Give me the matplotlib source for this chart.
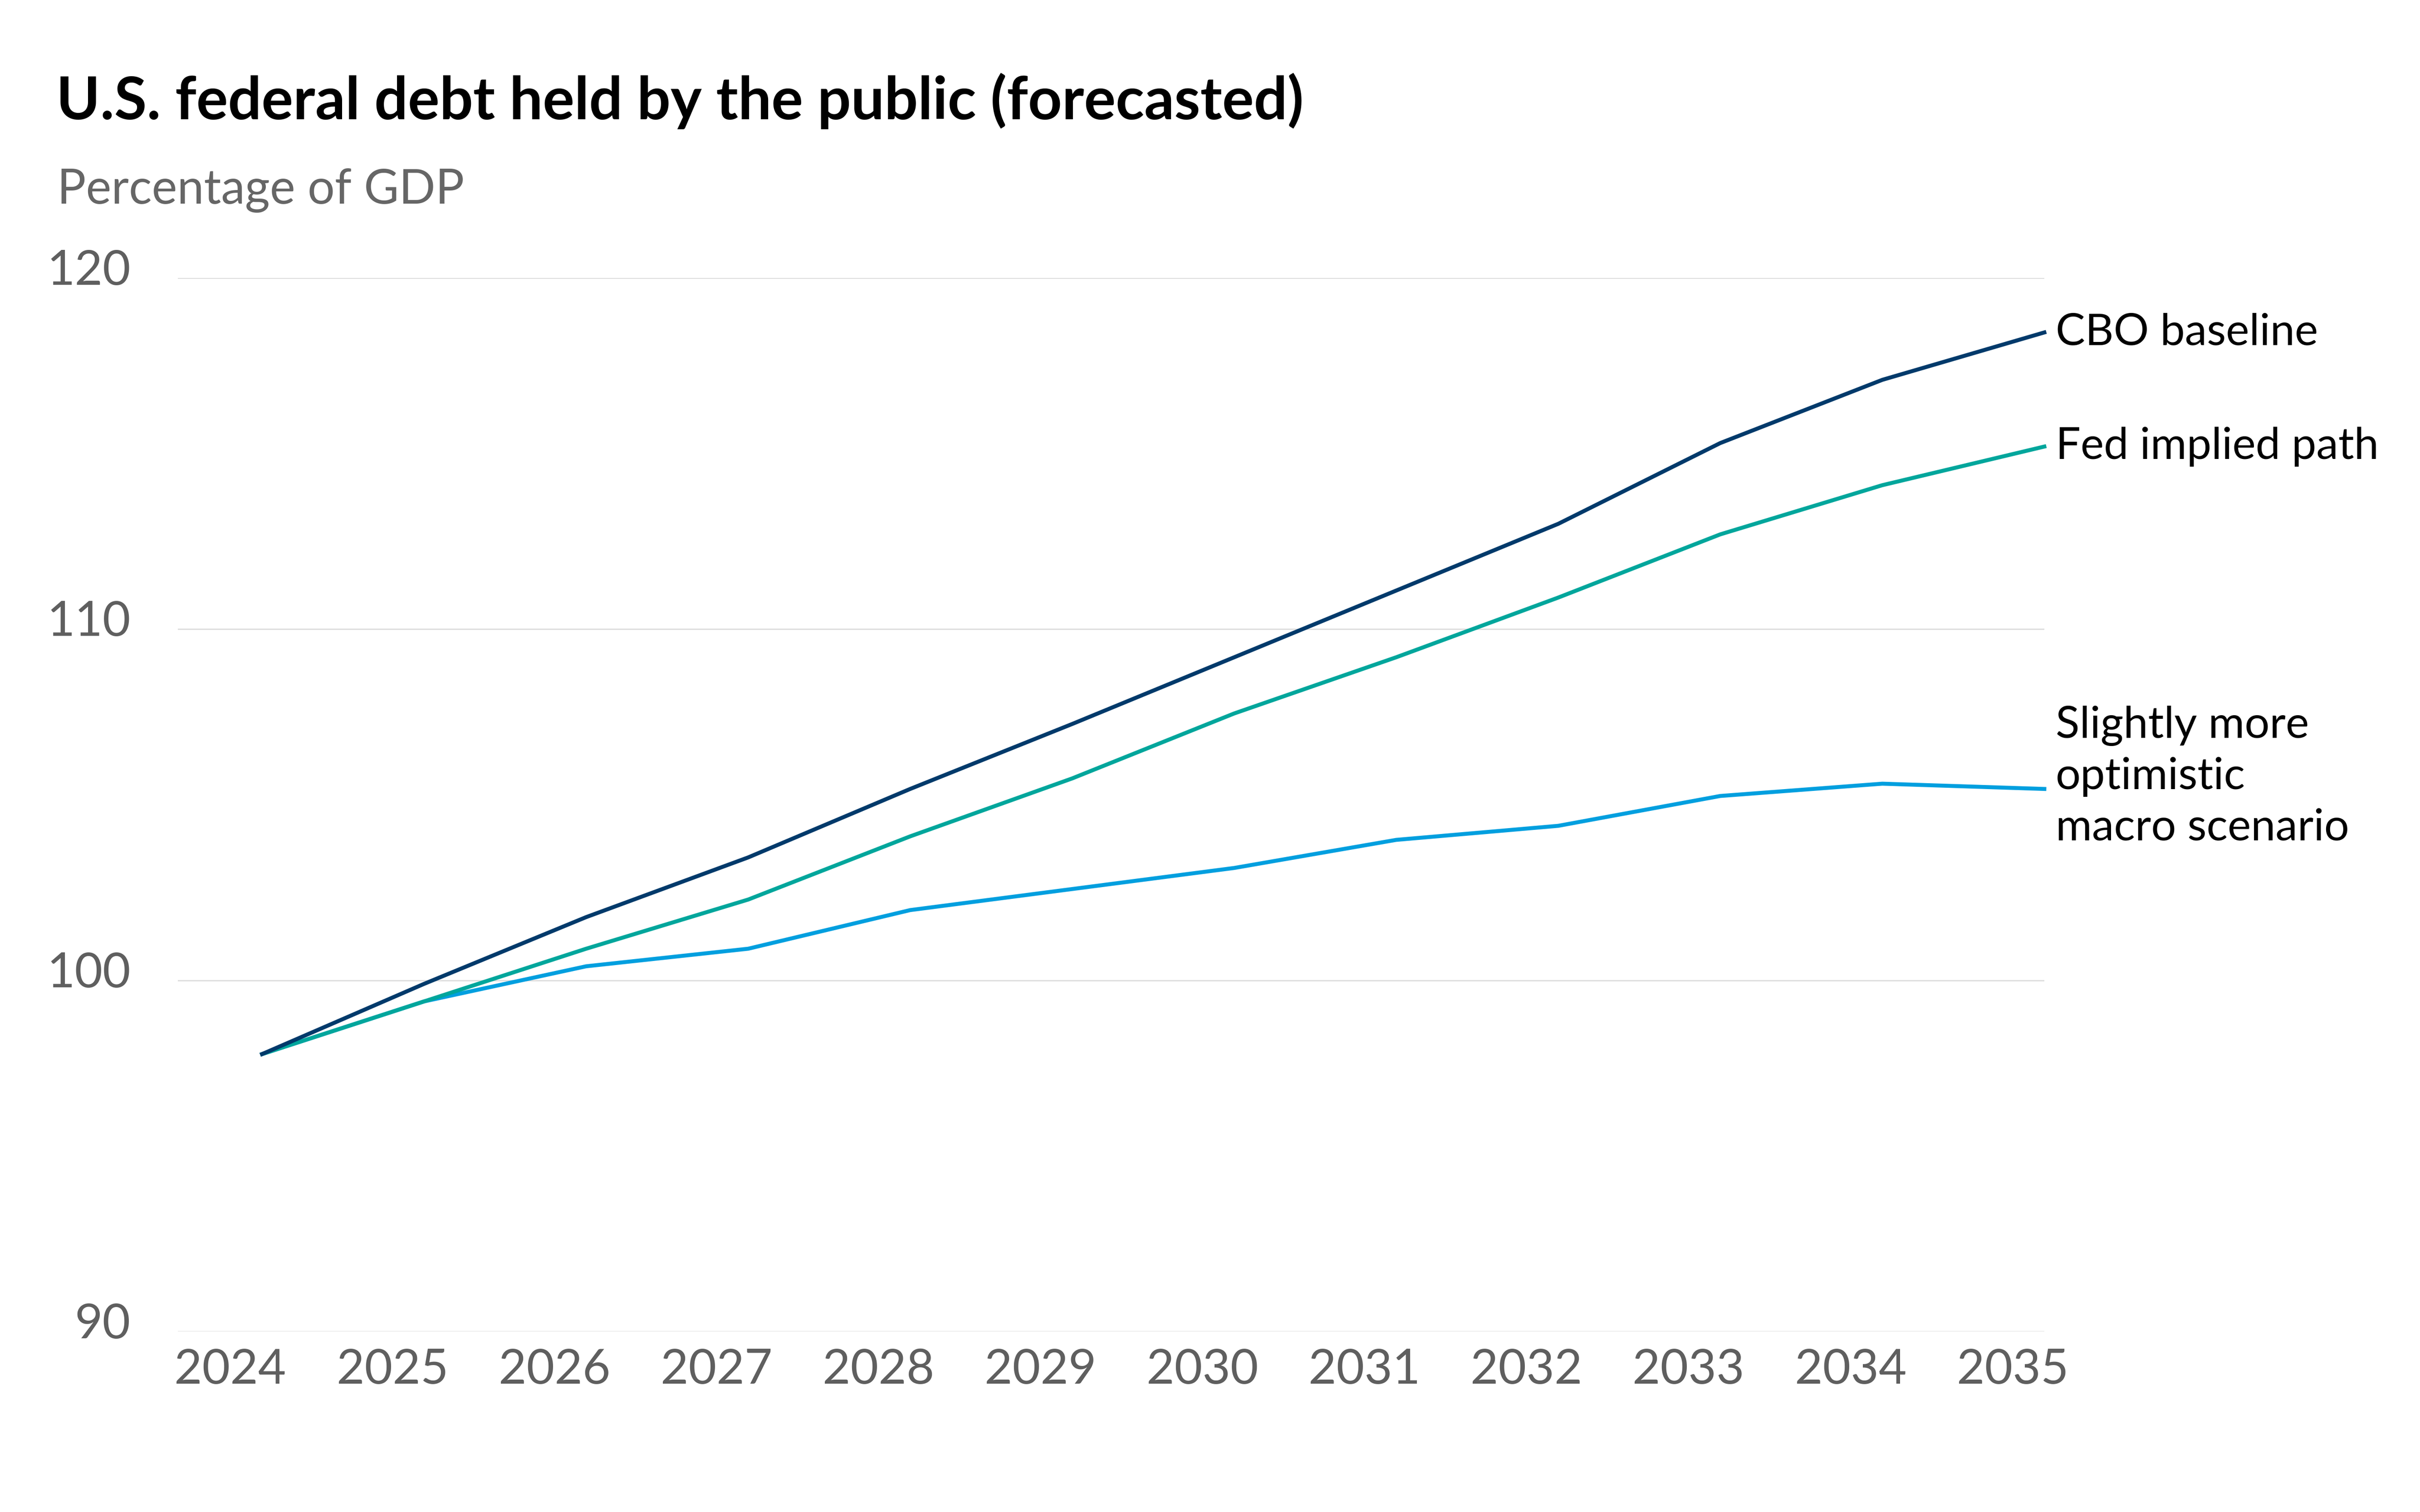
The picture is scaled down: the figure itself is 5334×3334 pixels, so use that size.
import matplotlib
matplotlib.use("Agg")
import matplotlib.pyplot as plt
import matplotlib.transforms as mtransforms

plt.rcParams['font.family'] = ['Lato', 'DejaVu Sans']

# data (percent of GDP)
years = [2024, 2025, 2026, 2027, 2028, 2029, 2030, 2031, 2032, 2033, 2034, 2035]
cbo_baseline = [97.9, 99.9, 101.8, 103.5, 105.45, 107.3, 109.2, 111.1, 113.0, 115.3, 117.1, 118.45]
fed_implied = [97.9, 99.4, 100.9, 102.3, 104.1, 105.75, 107.6, 109.2, 110.9, 112.7, 114.1, 115.2]
optimistic = [97.9, 99.4, 100.4, 100.9, 102.0, 102.6, 103.2, 104.0, 104.4, 105.25, 105.6, 105.45]
y_ticks = [90, 100, 110, 120]

NAVY = '#003a6b'
TEAL = '#00a69c'
BLUE = '#009fdf'
GRAY = '#5f5f5f'

DPI = 300
fig = plt.figure(figsize=(5334 / DPI, 3334 / DPI), dpi=DPI)
ax = fig.add_axes([392 / 5334, 1 - 2936 / 3334, (4506 - 392) / 5334, (2936 - 613) / 3334])

ax.plot(years, optimistic, color=BLUE, lw=2.1, clip_on=False, zorder=3)
ax.plot(years, fed_implied, color=TEAL, lw=2.1, clip_on=False, zorder=4)
ax.plot(years, cbo_baseline, color=NAVY, lw=2.1, clip_on=False, zorder=5)

ax.set_xlim(2023.48, 2035)
ax.set_ylim(90, 120)
ax.set_yticks(y_ticks)
ax.set_xticks(years)
ax.grid(axis='y', color='#d9d9d9', lw=0.6)
ax.set_axisbelow(True)
for s in ax.spines.values():
    s.set_visible(False)
ax.tick_params(length=0, colors=GRAY, labelsize=25.5)
ax.tick_params(axis='y', pad=25)
ax.tick_params(axis='x', pad=9)

# x labels sit a bit left of their data points, y labels a bit above the gridlines
xoff = mtransforms.ScaledTranslation(-70 / DPI, 0, fig.dpi_scale_trans)
for lab in ax.get_xticklabels():
    lab.set_transform(lab.get_transform() + xoff)
yoff = mtransforms.ScaledTranslation(0, 24 / DPI, fig.dpi_scale_trans)
for lab in ax.get_yticklabels():
    lab.set_transform(lab.get_transform() + yoff)

# series labels at the line ends
ax.annotate('CBO baseline', (years[-1], cbo_baseline[-1]), xytext=(6, 0),
            textcoords='offset points', va='center', ha='left', fontsize=23.3, color='black')
ax.annotate('Fed implied path', (years[-1], fed_implied[-1]), xytext=(6, 0),
            textcoords='offset points', va='center', ha='left', fontsize=23.3, color='black')
ax.annotate('Slightly more\noptimistic\nmacro scenario', (years[-1], optimistic[-1]), xytext=(6, 6.5),
            textcoords='offset points', va='center', ha='left', fontsize=23.3, color='black',
            linespacing=1.34)

fig.text(124 / 5334, 1 - 263 / 3334, 'U.S. federal debt held by the public (forecasted)',
         fontsize=31.3, fontweight='bold', color='black', va='baseline', ha='left')
fig.text(126 / 5334, 1 - 449 / 3334, 'Percentage of GDP',
         fontsize=25.4, color='#666666', va='baseline', ha='left')

fig.savefig('out.png', dpi=DPI, facecolor='white')
